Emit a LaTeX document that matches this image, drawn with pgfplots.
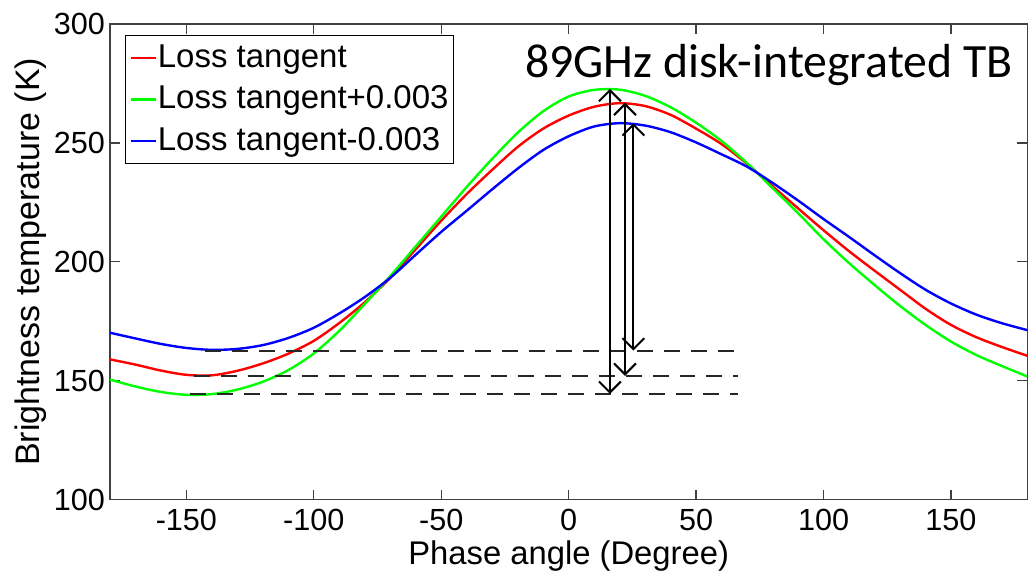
\documentclass[border=0pt]{standalone}
\usepackage{pgfplots}
\pgfplotsset{compat=1.18}
\usepackage{fontspec}
\setmainfont{Liberation Sans}
\newfontfamily\calibri{Carlito}
\usetikzlibrary{arrows.meta}

\begin{document}
\begin{tikzpicture}
\begin{axis}[
  scale only axis, width=459pt, height=238pt,
  xmin=-180, xmax=180, ymin=100, ymax=300,
  xtick={-150,-100,-50,0,50,100,150},
  xticklabels={-150,-100,-50,0,50,100,150},
  ytick={100,150,200,250,300},
  yticklabels={100,150,200,250,300},
  tick align=inside, major tick length=5pt,
  axis line style={black!75, line width=0.6pt},
  every tick/.style={black!75, line width=0.6pt},
  ticklabel style={font=\fontsize{15.3}{18}\selectfont},
  xticklabel style={yshift=-1pt},
  yticklabel style={xshift=1pt},
  xlabel={Phase angle (Degree)},
  ylabel={Brightness temperature (K)},
  xlabel style={font=\fontsize{16.4}{19}\selectfont, at={(axis description cs:0.5,-0.1176)}, anchor=center},
  ylabel style={font=\fontsize{17}{20}\selectfont, at={(axis description cs:-0.0861,0.5)}, anchor=center},
  legend style={at={(axis description cs:0,1)}, anchor=north west, xshift=7.5pt, yshift=-5.5pt,
    draw=black, line width=0.6pt, fill=white, inner xsep=2pt, inner ysep=2.5pt,
    font=\fontsize{16.5}{19}\selectfont, row sep=3pt,
    nodes={inner sep=0.5pt, text height=13pt, text depth=3.7pt}},
  legend cell align=left,
  legend image code/.code={\draw[#1] (0pt,0pt) -- (12.5pt,0pt);},
]
\coordinate (sw) at (rel axis cs:0,0);
\coordinate (ne) at (rel axis cs:1,1);

\addplot[red, line width=1.2pt, smooth] coordinates {
(-180,159.0) (-170,156.8) (-160,154.3) (-150,152.5) (-140,152.3) (-130,154.2) (-120,157.3) (-110,161.4) (-100,166.8) (-90,174.3) (-80,183.0) (-70,193.3) (-60,205.3) (-50,217.3) (-40,228.5) (-30,238.7) (-20,248.3) (-10,256.0) (0,261.5) (10,265.2) (20,266.7) (30,265.5) (40,261.8) (50,256.0) (60,249.5) (70,241.2) (80,231.8) (90,222.5) (100,213.3) (110,204.5) (120,196.3) (130,188.3) (140,180.3) (150,173.5) (160,168.3) (170,164.2) (180,160.5)};
\addlegendentry{Loss tangent}

\addplot[green, line width=1.2pt, smooth] coordinates {
(-180,150.5) (-170,147.6) (-160,145.3) (-150,144.1) (-140,144.4) (-130,146.3) (-120,149.6) (-110,154.5) (-100,161.5) (-90,171.0) (-80,182.3) (-70,194.0) (-60,206.5) (-50,219.0) (-40,231.5) (-30,243.3) (-20,254.3) (-10,263.3) (0,269.5) (10,272.3) (20,272.4) (30,269.8) (40,265.0) (50,258.5) (60,250.8) (70,241.5) (80,231.0) (90,220.5) (100,209.5) (110,199.5) (120,190.3) (130,181.5) (140,173.5) (150,166.5) (160,160.8) (170,156.2) (180,151.8)};
\addlegendentry{Loss tangent+0.003}

\addplot[blue, line width=1.2pt, smooth] coordinates {
(-180,170.2) (-170,167.8) (-160,165.5) (-150,163.8) (-140,163.0) (-130,163.4) (-120,165.0) (-110,168.0) (-100,172.3) (-90,178.3) (-80,185.2) (-70,193.3) (-60,203.0) (-50,212.6) (-40,221.5) (-30,230.5) (-20,239.2) (-10,247.0) (0,252.8) (10,256.9) (20,258.3) (30,257.3) (40,254.5) (50,250.2) (60,245.2) (70,240.0) (80,233.2) (90,225.8) (100,218.0) (110,210.5) (120,202.8) (130,195.3) (140,188.3) (150,182.5) (160,177.8) (170,174.2) (180,171.3)};
\addlegendentry{Loss tangent-0.003}

% dashed reference lines at minima
\addplot[forget plot, black!85, line width=1pt, dash pattern=on 8pt off 5.5pt] coordinates {(-148.4,144.5) (66.5,144.5)};
\addplot[forget plot, black!85, line width=1pt, dash pattern=on 8pt off 5.5pt] coordinates {(-147.1,152.1) (66.5,152.1)};
\addplot[forget plot, black!85, line width=1pt, dash pattern=on 8pt off 5.5pt] coordinates {(-142.6,162.7) (66.5,162.7)};

% double arrows
\addplot[forget plot, black, line width=1pt, arrows={Straight Barb[length=5.5pt,width=11pt]-Straight Barb[length=5.5pt,width=11pt]}] coordinates {(16.2,144.5) (16.2,272.7)};
\addplot[forget plot, black, line width=1pt, arrows={Straight Barb[length=5.5pt,width=11pt]-Straight Barb[length=5.5pt,width=11pt]}] coordinates {(22.1,152.1) (22.1,266.9)};
\addplot[forget plot, black, line width=1pt, arrows={Straight Barb[length=5.5pt,width=11pt]-Straight Barb[length=5.5pt,width=11pt]}] coordinates {(25.4,162.7) (25.4,258.3)};

\node[anchor=base west, inner sep=0pt, font=\calibri\fontsize{23.9}{28}\selectfont] at (axis cs:-17.2,277.3) {89GHz disk-integrated TB};
\end{axis}
\pgfresetboundingbox
\path[use as bounding box] ([xshift=-55pt,yshift=-36.5pt]sw) rectangle ([xshift=0.3pt,yshift=12pt]ne);
\end{tikzpicture}
\end{document}
